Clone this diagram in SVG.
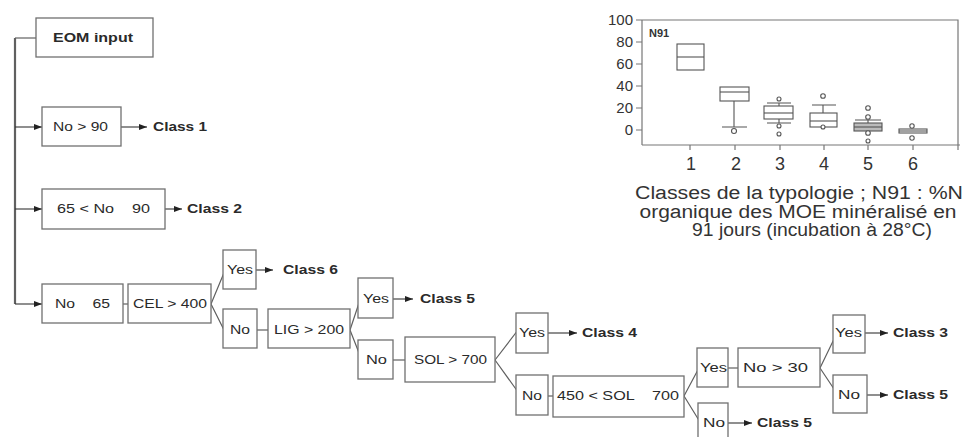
<svg xmlns="http://www.w3.org/2000/svg" width="964" height="437" viewBox="0 0 964 437">
<defs>
<marker id="ah" viewBox="0 0 8 6" refX="8" refY="3" markerWidth="8" markerHeight="6" markerUnits="userSpaceOnUse" orient="auto">
<path d="M0,0 L8,3 L0,6 Z" fill="#222"/>
</marker>
</defs>
<style>
.box{fill:#fff;stroke:#707070;stroke-width:1.3}
.t{font-family:"Liberation Sans",Arial,sans-serif;font-size:12px;fill:#2a2a2a;white-space:pre}
.b{font-weight:bold}
.ln{stroke:#606060;stroke-width:1.2;fill:none}
.ar{stroke:#333;stroke-width:1.1;fill:none;marker-end:url(#ah)}
.ax{stroke:#777;stroke-width:1.2;fill:none}
.bp{stroke:#555;stroke-width:1.1;fill:#fff}
.ct{font-family:"Liberation Sans",Arial,sans-serif;fill:#333}
</style>
<rect width="964" height="437" fill="#fff"/>

<g id="connectors">
<path class="ln" d="M15,38 V304" stroke-width="2.2" style="stroke-width:2.2"/>
<path class="ln" d="M15,38 H36"/>
<path class="ar" d="M15,127 H42"/>
<path class="ar" d="M15,209 H42"/>
<path class="ar" d="M15,304 H42"/>
<path class="ar" d="M121,127 H147"/>
<path class="ar" d="M165,209 H182"/>
<path class="ln" d="M123,304 H128"/>
<path class="ln" d="M211,304 L226,268 M211,304 L226,334"/>
<path class="ar" d="M256,270 H273"/>
<path class="ln" d="M257,330 H268"/>
<path class="ln" d="M350,330 L361,297 M350,330 L361,358"/>
<path class="ar" d="M393,299 H413"/>
<path class="ln" d="M393,360 H405"/>
<path class="ln" d="M495,360 L518,330 M495,360 L518,392"/>
<path class="ar" d="M548,333 H577"/>
<path class="ln" d="M548,396 H553"/>
<path class="ln" d="M684,396 L700,366 M684,396 L700,422"/>
<path class="ln" d="M728,368 H738"/>
<path class="ar" d="M728,423 H752"/>
<path class="ln" d="M820,368 L836,335 M820,368 L836,392"/>
<path class="ar" d="M865,333 H888"/>
<path class="ar" d="M867,395 H888"/>
</g>

<g id="eom"><rect class="box" x="36" y="18" width="117" height="39"/><text class="t b" x="53" y="42" textLength="80" lengthAdjust="spacingAndGlyphs">EOM input</text></g>
<g id="n90"><rect class="box" x="42" y="107" width="79" height="39"/><text class="t" x="53" y="131" textLength="55" lengthAdjust="spacingAndGlyphs">No &gt; 90</text></g>
<g id="class1"><text class="t b" x="153" y="131" textLength="54" lengthAdjust="spacingAndGlyphs">Class 1</text></g>
<g id="n65_90"><rect class="box" x="42" y="189" width="123" height="40"/><text class="t" x="57" y="213" textLength="93" lengthAdjust="spacingAndGlyphs">65 &lt; No    90</text></g>
<g id="class2"><text class="t b" x="187" y="213" textLength="55" lengthAdjust="spacingAndGlyphs">Class 2</text></g>
<g id="n65"><rect class="box" x="42" y="284" width="81" height="39"/><text class="t" x="55" y="308" textLength="55" lengthAdjust="spacingAndGlyphs">No    65</text></g>
<g id="cel"><rect class="box" x="128" y="284" width="83" height="39"/><text class="t" x="133" y="308" textLength="74" lengthAdjust="spacingAndGlyphs">CEL &gt; 400</text></g>
<g id="yes1"><rect class="box" x="223" y="250" width="33" height="39"/><text class="t" x="227" y="274" textLength="26" lengthAdjust="spacingAndGlyphs">Yes</text></g>
<g id="class6"><text class="t b" x="283" y="274" textLength="55" lengthAdjust="spacingAndGlyphs">Class 6</text></g>
<g id="no1"><rect class="box" x="223" y="309" width="34" height="39"/><text class="t" x="230" y="334" textLength="20" lengthAdjust="spacingAndGlyphs">No</text></g>
<g id="lig"><rect class="box" x="268" y="309" width="82" height="39"/><text class="t" x="274" y="334" textLength="70" lengthAdjust="spacingAndGlyphs">LIG &gt; 200</text></g>
<g id="yes2"><rect class="box" x="358" y="278" width="35" height="40"/><text class="t" x="363" y="303" textLength="26" lengthAdjust="spacingAndGlyphs">Yes</text></g>
<g id="class5a"><text class="t b" x="420" y="303" textLength="55" lengthAdjust="spacingAndGlyphs">Class 5</text></g>
<g id="no2"><rect class="box" x="358" y="340" width="35" height="39"/><text class="t" x="366" y="364" textLength="21" lengthAdjust="spacingAndGlyphs">No</text></g>
<g id="sol"><rect class="box" x="405" y="337" width="90" height="45"/><text class="t" x="414" y="364" textLength="73" lengthAdjust="spacingAndGlyphs">SOL &gt; 700</text></g>
<g id="yes3"><rect class="box" x="516" y="313" width="32" height="40"/><text class="t" x="519" y="337" textLength="26" lengthAdjust="spacingAndGlyphs">Yes</text></g>
<g id="class4"><text class="t b" x="582" y="337" textLength="55" lengthAdjust="spacingAndGlyphs">Class 4</text></g>
<g id="no3"><rect class="box" x="516" y="375" width="32" height="40"/><text class="t" x="522" y="400" textLength="20" lengthAdjust="spacingAndGlyphs">No</text></g>
<g id="sol2"><rect class="box" x="553" y="376" width="131" height="41"/><text class="t" x="557" y="400" textLength="122" lengthAdjust="spacingAndGlyphs">450 &lt; SOL    700</text></g>
<g id="yes4"><rect class="box" x="697" y="348" width="31" height="39"/><text class="t" x="700" y="372" textLength="27" lengthAdjust="spacingAndGlyphs">Yes</text></g>
<g id="n30"><rect class="box" x="738" y="348" width="82" height="39"/><text class="t" x="743" y="372" textLength="65" lengthAdjust="spacingAndGlyphs">No &gt; 30</text></g>
<g id="no4"><rect class="box" x="698" y="403" width="30" height="42"/><text class="t" x="703" y="427" textLength="22" lengthAdjust="spacingAndGlyphs">No</text></g>
<g id="class5b"><text class="t b" x="757" y="427" textLength="55" lengthAdjust="spacingAndGlyphs">Class 5</text></g>
<g id="yes5"><rect class="box" x="833" y="315" width="32" height="38"/><text class="t" x="835" y="337" textLength="27" lengthAdjust="spacingAndGlyphs">Yes</text></g>
<g id="class3"><text class="t b" x="893" y="337" textLength="55" lengthAdjust="spacingAndGlyphs">Class 3</text></g>
<g id="no5"><rect class="box" x="833" y="375" width="34" height="38"/><text class="t" x="838" y="399" textLength="22" lengthAdjust="spacingAndGlyphs">No</text></g>
<g id="class5c"><text class="t b" x="893" y="399" textLength="55" lengthAdjust="spacingAndGlyphs">Class 5</text></g>

<g id="chart">
<path class="ax" d="M642,20 H958 V145 M642,20 V145 M642,145 H960"/>
<path class="ax" d="M636,20 H642 M636,42 H642 M636,64 H642 M636,86 H642 M636,108 H642 M636,130 H642"/>
<path class="ax" d="M690,145 V150 M735,145 V150 M780,145 V150 M824,145 V150 M868,145 V150 M913,145 V150 M958,145 V150"/>
<g class="ct" font-size="15" text-anchor="end">
<text x="633" y="25">100</text><text x="633" y="47">80</text><text x="633" y="69">60</text><text x="633" y="91">40</text><text x="633" y="113">20</text><text x="633" y="135">0</text>
</g>
<g class="ct" font-size="18" text-anchor="middle">
<text x="691" y="170">1</text><text x="736" y="170">2</text><text x="780" y="170">3</text><text x="824" y="170">4</text><text x="868" y="170">5</text><text x="913" y="170">6</text>
</g>
<text class="ct" x="649" y="37" font-size="11" font-weight="bold">N91</text>
<g class="bp">
<rect x="677" y="44" width="27" height="26"/><path d="M677,57 H704"/>
<path d="M734,101 V127 M722,127 H747"/><rect x="720" y="87" width="29" height="14"/><path d="M720,92 H749"/><circle cx="734" cy="131" r="2.5"/>
<path d="M779,103 V106 M779,119 V123 M767,103 H791 M767,123 H791"/><rect x="764" y="106" width="29" height="13"/><path d="M764,113 H793"/><circle cx="779" cy="99" r="2"/><circle cx="779" cy="126" r="2"/><circle cx="779" cy="134" r="2"/>
<path d="M823,105 V113 M812,105 H836"/><rect x="810" y="113" width="27" height="14"/><path d="M810,121 H837"/><circle cx="823" cy="96" r="2.3"/><circle cx="823" cy="127" r="2"/>
<path d="M868,120 V123 M855,120 H881"/><rect x="854" y="123" width="28" height="8" fill="#bbb"/><path d="M854,127 H882"/><circle cx="868" cy="108" r="2.3"/><circle cx="868" cy="117" r="2.3"/><circle cx="868" cy="133" r="2.3"/><circle cx="868" cy="141" r="2"/>
<rect x="899" y="129" width="28" height="4"/><path d="M899,131 H927"/><circle cx="912" cy="126" r="2.2"/><circle cx="912" cy="138" r="2.2"/>
</g>
<g class="ct" font-size="18" text-anchor="middle">
<text x="799" y="199" textLength="328" lengthAdjust="spacingAndGlyphs">Classes de la typologie ; N91 : %N</text>
<text x="798" y="218" textLength="317" lengthAdjust="spacingAndGlyphs">organique des MOE minéralisé en</text>
<text x="812" y="236" textLength="240" lengthAdjust="spacingAndGlyphs">91 jours (incubation à 28°C)</text>
</g>
</g>
</svg>
